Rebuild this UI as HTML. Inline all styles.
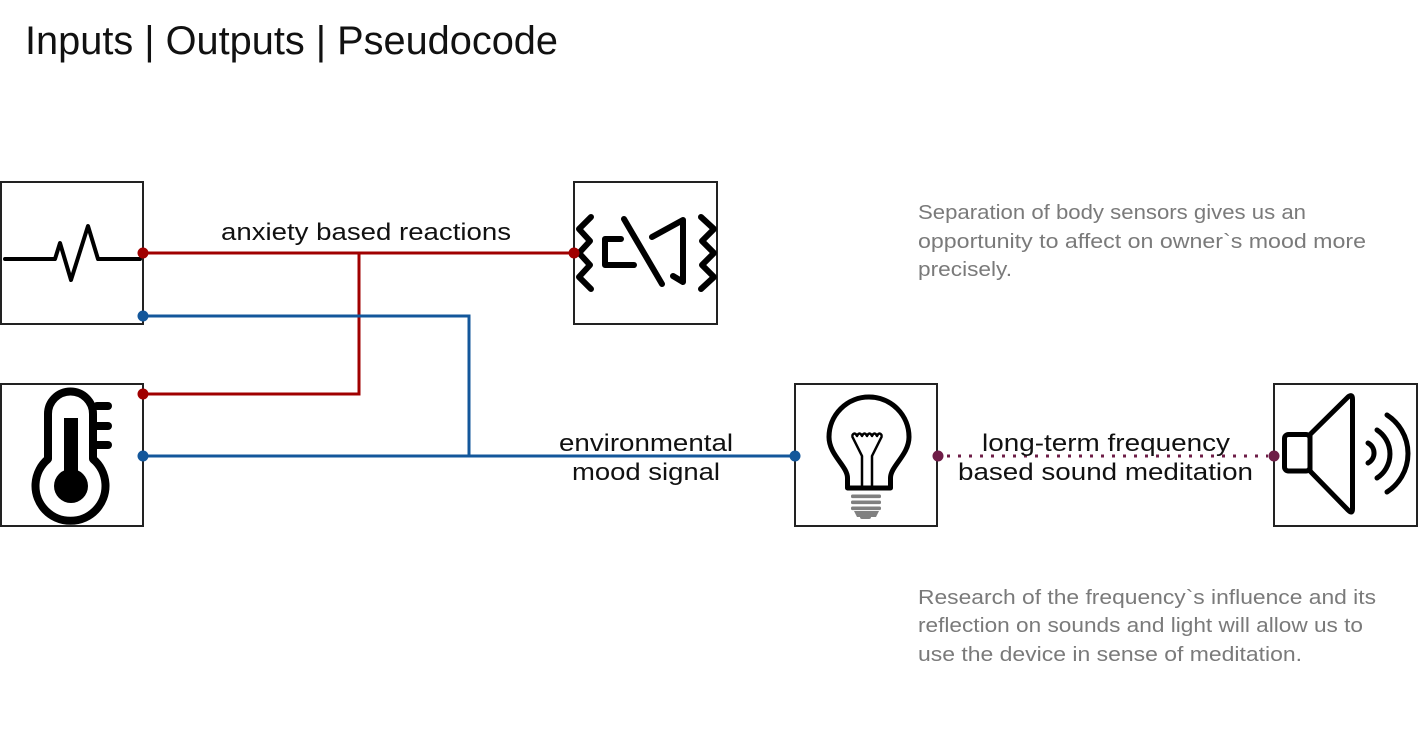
<!DOCTYPE html>
<html>
<head>
<meta charset="utf-8">
<style>
  html,body{margin:0;padding:0;background:#fff;}
  body{width:1418px;height:729px;overflow:hidden;}
  svg{display:block;}
  .t{font-family:"Liberation Sans",sans-serif;}
</style>
</head>
<body>
<svg width="1418" height="729" viewBox="0 0 1418 729" xmlns="http://www.w3.org/2000/svg">
  <rect width="1418" height="729" fill="#fff"/>

  <!-- Title -->
  <text class="t" x="25" y="54" font-size="40" fill="#111" textLength="533" lengthAdjust="spacingAndGlyphs">Inputs | Outputs | Pseudocode</text>

  <!-- Boxes -->
  <g fill="#fff" stroke="#222" stroke-width="2">
    <rect x="1" y="182" width="142" height="142"/>
    <rect x="1" y="384" width="142" height="142"/>
    <rect x="574" y="182" width="143" height="142"/>
    <rect x="795" y="384" width="142" height="142"/>
    <rect x="1274" y="384" width="143" height="142"/>
  </g>

  <!-- ECG icon -->
  <polyline points="5,259 55,259 60,243 71,280 88,226 98,259 140,259" fill="none" stroke="#000" stroke-width="4" stroke-linejoin="round" stroke-linecap="round"/>

  <!-- Thermometer icon -->
  <g>
    <path d="M48,459 L48,414 A22.5,22.5 0 0 1 93,414 L93,459 A35,35 0 1 1 48,459 Z" fill="#fff" stroke="#000" stroke-width="8" stroke-linejoin="round"/>
    <g stroke="#000" stroke-width="8" stroke-linecap="round">
      <line x1="97" y1="406" x2="108" y2="406"/>
      <line x1="97" y1="426" x2="108" y2="426"/>
      <line x1="97" y1="445" x2="108" y2="445"/>
    </g>
    <rect x="64" y="418" width="14" height="68" fill="#000"/>
    <circle cx="71" cy="486" r="17" fill="#000"/>
  </g>

  <!-- Motor / actuator icon -->
  <g fill="none" stroke="#000" stroke-width="6" stroke-linecap="round" stroke-linejoin="round">
    <polyline points="591,217 579,229 590,241 579,253 590,265 579,277 591,289"/>
    <polyline points="701,217 714,229 702,241 714,253 702,265 714,277 701,289"/>
    <polyline points="621,239 605,239 605,265 634,265"/>
    <line x1="624" y1="219" x2="662" y2="284"/>
    <polyline points="652,237 683,220 683,282 673,276"/>
  </g>

  <!-- Bulb icon -->
  <g>
    <path d="M847.5,488 L847.5,478 C847.5,466 829,455 829,437 A40,40 0 0 1 909,437 C909,455 890.5,466 890.5,478 L890.5,488 Z" fill="none" stroke="#000" stroke-width="5" stroke-linejoin="round"/>
    <g fill="none" stroke="#000" stroke-width="2.5" stroke-linejoin="round">
      <path d="M852,436 q2.5,-5 5,0 q2.5,-5 5,0 q2.5,-5 5,0 q2.5,-5 5,0 q2.5,-5 5,0 q2.5,-5 5,0"/>
      <polyline points="852,436 862,456 862,487"/>
      <polyline points="882,436 872,456 872,487"/>
    </g>
    <g fill="#808080">
      <rect x="851" y="494.5" width="30" height="3.6" rx="1.5"/>
      <rect x="851" y="500.5" width="30" height="3.6" rx="1.5"/>
      <rect x="851" y="506.5" width="30" height="3.6" rx="1.5"/>
      <path d="M854,511 L879,511 L876,517 L857,517 Z"/>
      <rect x="860" y="515" width="11" height="4" rx="2"/>
    </g>
  </g>

  <!-- Speaker icon -->
  <g fill="none" stroke="#000" stroke-width="5" stroke-linejoin="round" stroke-linecap="round">
    <rect x="1284.5" y="434.5" width="25.5" height="36.5" rx="4"/>
    <path d="M1310,434.5 L1348,397 Q1352.5,393.5 1352.5,399 L1352.5,509 Q1352.5,514.5 1348,510 L1310,471 Z"/>
    <path d="M1368,443 A11.3,11.3 0 0 1 1368,463"/>
    <path d="M1377,430 A28.7,28.7 0 0 1 1377,478"/>
    <path d="M1387,415 A45.8,45.8 0 0 1 1387,492"/>
  </g>

  <!-- Connectors -->
  <g fill="none" stroke-width="3">
    <polyline points="143,253 574,253" stroke="#a00000"/>
    <polyline points="359,253 359,394 143,394" stroke="#a00000"/>
    <polyline points="143,316 469,316 469,456" stroke="#13579b"/>
    <polyline points="143,456 795,456" stroke="#13579b"/>
    <line x1="947" y1="456" x2="1268" y2="456" stroke="#6e1d47" stroke-dasharray="3 8"/>
  </g>

  <!-- Port dots -->
  <g>
    <circle cx="143" cy="253" r="5.5" fill="#a00000"/>
    <circle cx="574" cy="253" r="5.5" fill="#a00000"/>
    <circle cx="143" cy="394" r="5.5" fill="#a00000"/>
    <circle cx="143" cy="316" r="5.5" fill="#13579b"/>
    <circle cx="143" cy="456" r="5.5" fill="#13579b"/>
    <circle cx="795" cy="456" r="5.5" fill="#13579b"/>
    <circle cx="938" cy="456" r="5.5" fill="#6e1d47"/>
    <circle cx="1274" cy="456" r="5.5" fill="#6e1d47"/>
  </g>

  <!-- Connector labels -->
  <g class="t" font-size="24" fill="#111">
    <text x="221" y="240" textLength="290" lengthAdjust="spacingAndGlyphs">anxiety based reactions</text>
    <text x="559" y="451" textLength="174" lengthAdjust="spacingAndGlyphs">environmental</text>
    <text x="572" y="480" textLength="148" lengthAdjust="spacingAndGlyphs">mood signal</text>
    <text x="982" y="451" textLength="248" lengthAdjust="spacingAndGlyphs">long-term frequency</text>
    <text x="958" y="480" textLength="295" lengthAdjust="spacingAndGlyphs">based sound meditation</text>
  </g>

  <!-- Notes -->
  <g class="t" font-size="20" fill="#7a7a7a">
    <text x="918" y="219" textLength="388" lengthAdjust="spacingAndGlyphs">Separation of body sensors gives us an</text>
    <text x="918" y="248" textLength="448" lengthAdjust="spacingAndGlyphs">opportunity to affect on owner`s mood more</text>
    <text x="918" y="276" textLength="94" lengthAdjust="spacingAndGlyphs">precisely.</text>
    <text x="918" y="604" textLength="458" lengthAdjust="spacingAndGlyphs">Research of the frequency`s influence and its</text>
    <text x="918" y="632" textLength="445" lengthAdjust="spacingAndGlyphs">reflection on sounds and light will allow us to</text>
    <text x="918" y="661" textLength="384" lengthAdjust="spacingAndGlyphs">use the device in sense of meditation.</text>
  </g>
</svg>
</body>
</html>
